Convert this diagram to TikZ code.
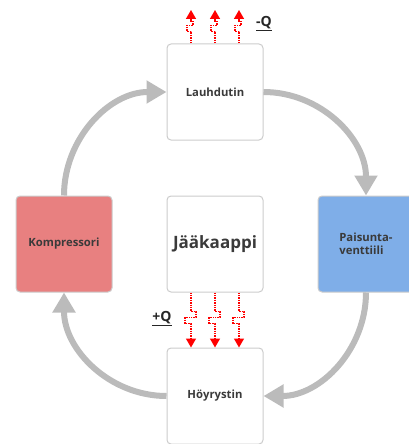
\documentclass[tikz,border=0pt]{standalone}
\usepackage{fontspec}
\setsansfont{Open Sans}
\usepackage{tikz}
\usetikzlibrary{arrows.meta,positioning}
\definecolor{flowgray}{HTML}{BBBBBB}
\definecolor{boxline}{HTML}{CCCCCC}
\definecolor{hotred}{HTML}{E88080}
\definecolor{coolblue}{HTML}{7FAEE8}
\definecolor{labeltext}{HTML}{3A3A3A}

\begin{document}
\begin{tikzpicture}[
x=1pt,y=1pt,
font=\bfseries\sffamily,
box/.style={draw=boxline,line width=1pt,rounded corners=4pt,fill=white,
  minimum width=96pt,minimum height=96pt,text=labeltext,font=\bfseries\sffamily\fontsize{11.3}{13.5}\selectfont},
flow/.style={draw=flowgray,line width=6pt,-{Triangle[width=22pt,length=20pt]}},
heat/.style={draw=red,line width=1.4pt,densely dotted,-{Triangle[width=10pt,length=9pt]}},
qlabel/.style={text=black!85,font=\bfseries\sffamily\fontsize{14}{16}\selectfont},
node distance=55pt and 54pt]
    \useasboundingbox (0,0) rectangle (409,-444);

    % Draw the boxes
    \node[box,font=\bfseries\sffamily\fontsize{17}{19}\selectfont] (fridge) at (215,-244) {Jääkaappi};
    \node[box] (lauh) [above=of fridge] {Lauhdutin};
    \node[box] (hoyr) [below=of fridge] {Höyrystin};
    \node[box,fill=hotred] (komp) [left=of fridge] {Kompressori};
    \node[box,fill=coolblue,align=left] (pais) [right=of fridge] {Paisunta-\\venttiili};

    % Draw the cycle
    \draw[flow] (komp.north) to[out=90,in=180] (lauh.west);
    \draw[flow] (lauh.east) to[out=0,in=90] (pais.north);
    \draw[flow] (pais.south) to[out=-90,in=0] (hoyr.east);
    \draw[flow] (hoyr.west) to[out=180,in=-90] (komp.south);

    % Draw heat out and in
    \foreach \dx [count=\i] in {-24,0,24} {
        \coordinate (qout\i) at ([xshift=\dx]lauh.north |- 0,-10);
        \draw[heat] ([xshift=\dx]lauh.north) -- ++(0,12) -- ++(-4,0) -- ++(0,6)
            -- ++(6,0) -- ++(0,4) -- ++(-2,0) -- (qout\i);
        \draw[heat] ([xshift=\dx]fridge.south) -- ++(0,-19) -- ++(5,0) -- ++(0,-6)
            -- ++(-11,0) -- ++(0,-6) -- ++(6,0) -- ([xshift=\dx]hoyr.north);
    }
    \node[qlabel] (qminus) at (264,-24) {\underline{-Q}};
    \node[qlabel] (qplus) at (162,-319) {\underline{+Q}};

\end{tikzpicture}
\end{document}
